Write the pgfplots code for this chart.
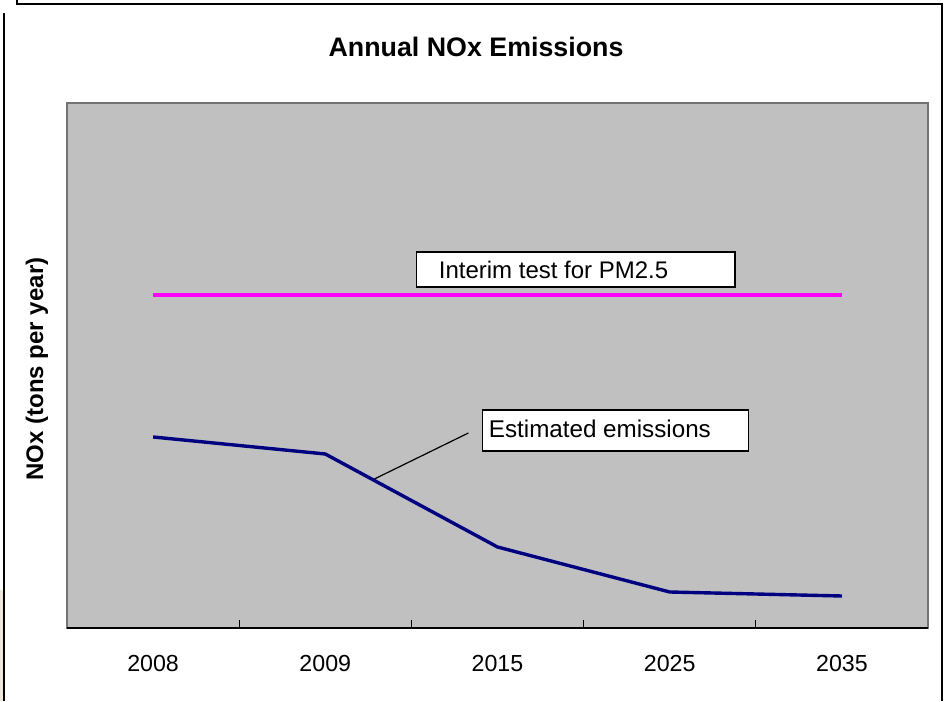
\documentclass[border=0pt]{standalone}
\usepackage{pgfplots}
\pgfplotsset{compat=1.18}
\usepackage{fontspec}
\setmainfont{Liberation Sans}
\definecolor{plotgray}{HTML}{C0C0C0}
\definecolor{navyline}{HTML}{000080}
\definecolor{pinkline}{HTML}{FF00FF}
\definecolor{beige}{HTML}{EEE8DC}
\begin{document}
\begin{tikzpicture}[x=0.5pt,y=0.5pt]
\path[use as bounding box] (0,0) rectangle (945,701);
% outer frame (pixel coords, y measured up from bottom)
\fill[beige] (0,0) rectangle (4,111);
\draw[black, line width=0.8pt] (17,701) -- (17,697) -- (942,697) -- (942,0);
\draw[black, line width=0.8pt] (4,688) -- (4,0);
\begin{axis}[
  at={(33.5pt,36.5pt)}, anchor=south west,
  scale only axis, width=430.5pt, height=262.5pt,
  xmin=-0.5, xmax=4.5, ymin=0, ymax=525,
  axis background/.style={fill=plotgray},
  axis line style={draw=gray!90!black, line width=0.6pt},
  xtick={0,1,2,3,4},
  xticklabels={2008,2009,2015,2025,2035},
  xtick pos=bottom,
  major tick length=0pt,
  minor xtick={-0.5,0.5,1.5,2.5,3.5,4.5},
  minor tick length=4pt,
  tick align=inside,
  minor tick style={black, line width=0.5pt},
  ytick=\empty,
  xticklabel style={font=\fontsize{11.6}{13}\selectfont, anchor=north, yshift=-10pt},
  clip=false,
]
\addplot[pinkline, line width=1.6pt] coordinates {(0,333) (1,333) (2,333) (3,333) (4,333)};
\addplot[navyline, line width=1.7pt] coordinates {(0,191) (1,174) (2,81) (3,36) (4,32)};
\draw[black, line width=1pt] (rel axis cs:0,0) -- (rel axis cs:1,0);
% annotation boxes
\draw[black, line width=0.7pt, fill=white] (axis cs:1.529,376) rectangle (axis cs:3.378,341);
\node[anchor=west, inner sep=0pt, font=\fontsize{12}{14}\selectfont] at (axis cs:1.657,358.5) {Interim test for PM2.5};
\draw[black, line width=0.7pt, fill=white] (axis cs:1.913,218) rectangle (axis cs:3.459,177);
\node[anchor=west, inner sep=0pt, font=\fontsize{12.1}{14}\selectfont] at (axis cs:1.948,199) {Estimated emissions};
\draw[black, line width=0.6pt] (axis cs:1.831,195) -- (axis cs:1.285,149);
\end{axis}
\node[font=\fontsize{13.4}{16}\selectfont\bfseries] at (476,654) {Annual NOx Emissions};
\node[rotate=90, font=\fontsize{12}{14}\selectfont\bfseries] at (37,332) {NOx (tons per year)};
\end{tikzpicture}
\end{document}
